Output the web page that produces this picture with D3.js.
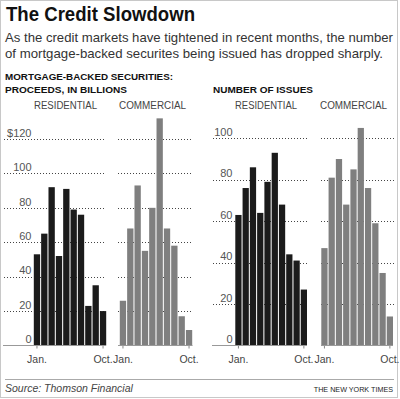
<!DOCTYPE html>
<html>
<head>
<meta charset="utf-8">
<script src="https://cdn.jsdelivr.net/npm/d3@7"></script>
<style>
html,body{margin:0;padding:0;background:#fff;}
svg{display:block;}
text{font-family:"Liberation Sans",Arial,Helvetica,sans-serif;}
</style>
</head>
<body>
<svg id="chart" width="400" height="399"></svg>
<script>
// ---- data ----
const months = ["Jan.","Feb.","Mar.","Apr.","May","Jun.","Jul.","Aug.","Sep.","Oct."];
const tickMonths = ["Jan.","Oct."];
const residentialProceeds = [53, 65, 92, 52, 91, 79, 76, 23, 35, 20];
const commercialProceeds  = [26, 68, 93, 55, 80, 132, 68, 58, 17, 9];
const residentialIssues   = [63, 76, 86, 64, 79, 93, 68, 44, 41, 27];
const commercialIssues    = [47, 81, 90, 68, 85, 105, 76, 59, 35, 14];
const proceedsTicks = [0, 20, 40, 60, 80, 100, 120];
const issuesTicks   = [0, 20, 40, 60, 80, 100];

const svg = d3.select("#chart");
const DARK = "#1b1b1b", GREY = "#7f7f7f", TXT = "#333";

// frame
svg.append("rect").attr("x",0.5).attr("y",0.5).attr("width",397).attr("height",397)
  .attr("fill","#fff").attr("stroke","#c8c8c8").attr("stroke-width",1);

// title
svg.append("text").attr("x",6).attr("y",20.5)
  .attr("font-size",21).attr("font-weight",900).attr("fill","#111")
  .attr("textLength",189).attr("lengthAdjust","spacingAndGlyphs")
  .text("The Credit Slowdown");

// subtitle
const sub = ["As the credit markets have tightened in recent months, the number",
             "of mortgage-backed securites being issued has dropped sharply."];
const subW = [388, 378];
sub.forEach((s,i)=>{
  svg.append("text").attr("x",5).attr("y",41.5+i*16)
    .attr("font-size",12.8).attr("fill",TXT)
    .attr("textLength",subW[i]).attr("lengthAdjust","spacingAndGlyphs")
    .text(s);
});

// section headers
function hdr(t,x,y,w){
  svg.append("text").attr("x",x).attr("y",y).attr("font-size",9.6).attr("font-weight","bold")
    .attr("fill","#111").attr("textLength",w).attr("lengthAdjust","spacingAndGlyphs").text(t);
}
hdr("MORTGAGE-BACKED SECURITIES:",5,80,168);
hdr("PROCEEDS, IN BILLIONS",5,93,122);
hdr("NUMBER OF ISSUES",213,93,100);

function sublabel(t,x,w){
  svg.append("text").attr("x",x).attr("y",109).attr("font-size",10).attr("fill","#444")
    .attr("textLength",w).attr("lengthAdjust","spacingAndGlyphs").text(t);
}
sublabel("RESIDENTIAL",34,63);
sublabel("COMMERCIAL",119,67);
sublabel("RESIDENTIAL",235,62);
sublabel("COMMERCIAL",320,67);

const BASE = 345.5;
const yProceeds = d3.scaleLinear().domain([0,120]).range([BASE,139]);
const yIssues   = d3.scaleLinear().domain([0,100]).range([BASE,138.3]);

function panel(values, yScale, ticks, barRange, gridRange, baseRange, color){
  const g = svg.append("g");
  const x = d3.scaleBand().domain(months).range(barRange).paddingInner(0.14).paddingOuter(0);
  // gridlines
  g.selectAll("line.grid").data(ticks.filter(t=>t>0)).join("line")
    .attr("x1",gridRange[0]).attr("x2",gridRange[1])
    .attr("y1",d=>Math.round(yScale(d))+0.5).attr("y2",d=>Math.round(yScale(d))+0.5)
    .attr("stroke","#444").attr("stroke-width",1).attr("stroke-dasharray","1,2");
  // bars
  g.selectAll("rect.bar").data(values).join("rect")
    .attr("x",(d,i)=>x(months[i])).attr("width",x.bandwidth())
    .attr("y",d=>yScale(d)).attr("height",d=>BASE-yScale(d))
    .attr("fill",color);
  // baseline axis with Jan./Oct. ticks
  const axis = d3.axisBottom(x).tickValues(tickMonths).tickSize(3).tickPadding(7);
  const ag = g.append("g").attr("transform",`translate(0,${BASE})`).call(axis);
  ag.select(".domain").remove();
  ag.selectAll(".tick line").attr("stroke","#888");
  ag.selectAll(".tick text").attr("font-size",10.5).attr("fill","#444")
    .attr("font-family","Liberation Sans, Arial, sans-serif");
  g.append("line").attr("x1",baseRange[0]).attr("x2",baseRange[1])
    .attr("y1",BASE).attr("y2",BASE).attr("stroke","#999").attr("stroke-width",1.2);
  return g;
}

panel(residentialProceeds, yProceeds, proceedsTicks, [33.8,106.2], [4,106], [3,106], DARK);
panel(commercialProceeds,  yProceeds, proceedsTicks, [119.8,192.2], [118,193], [118,192.5], GREY);
panel(residentialIssues,   yIssues,   issuesTicks,   [235.3,307], [213,308], [212,307], DARK);
panel(commercialIssues,    yIssues,   issuesTicks,   [321.3,393], [321,395], [321,393], GREY);

// y-axis labels
function yLabels(yScale, ticks, xr, fmt){
  const ya = d3.axisLeft(yScale).tickValues(ticks).tickSize(0).tickPadding(0).tickFormat(fmt);
  const g = svg.append("g").attr("transform",`translate(${xr},0)`).call(ya);
  g.select(".domain").remove();
  g.selectAll(".tick text").attr("font-size",11).attr("fill","#555")
    .attr("font-family","Liberation Sans, Arial, sans-serif")
    .attr("dy","-0.25em").attr("text-anchor","end");
}
yLabels(yProceeds, proceedsTicks, 31.5, d=> d===120 ? "$120" : d);
yLabels(yIssues, issuesTicks, 232.5, d=>d);

// footer
svg.append("line").attr("x1",5).attr("x2",394).attr("y1",379.5).attr("y2",379.5)
  .attr("stroke","#aaa").attr("stroke-width",1);
svg.append("text").attr("x",5).attr("y",392).attr("font-size",10.5).attr("font-style","italic")
  .attr("fill","#444").text("Source: Thomson Financial");
svg.append("text").attr("x",393).attr("y",391.5).attr("text-anchor","end")
  .attr("font-family","Liberation Serif, Times New Roman, serif").attr("font-size",7.2)
  .attr("fill","#222")
  .text("THE NEW YORK TIMES");
</script>
</body>
</html>
